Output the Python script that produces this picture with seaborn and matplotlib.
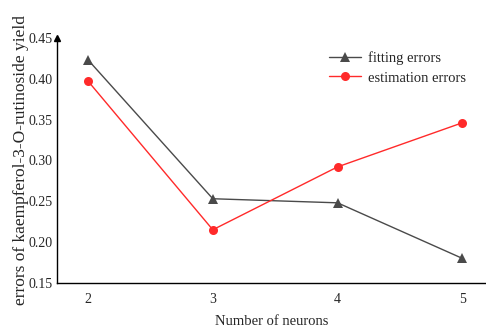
import matplotlib
matplotlib.use("Agg")
import matplotlib.pyplot as plt
import seaborn as sns
import pandas as pd

neurons = [2, 3, 4, 5]
fitting_errors = [0.423, 0.253, 0.248, 0.180]
estimation_errors = [0.397, 0.215, 0.292, 0.346]
yticks = [0.15, 0.20, 0.25, 0.30, 0.35, 0.40, 0.45]

sns.set_style("white")
plt.rcParams['font.family'] = ['Liberation Serif', 'DejaVu Serif']

df = pd.DataFrame({
    "neurons": neurons * 2,
    "error": fitting_errors + estimation_errors,
    "series": ["fitting errors"] * 4 + ["estimation errors"] * 4,
})

fig = plt.figure(figsize=(4.86, 3.32), dpi=100)
ax = fig.add_axes([0.117, 0.148, 0.883, 0.738])

sns.lineplot(data=df, x="neurons", y="error", hue="series", style="series",
             palette={"fitting errors": "#4a4a4a", "estimation errors": "#ff2a2a"},
             markers={"fitting errors": "^", "estimation errors": "o"},
             dashes=False, markersize=6.5, linewidth=1.0, markeredgewidth=0,
             ax=ax)

ax.set_xlim(1.75, 5.19)
ax.set_ylim(0.15, 0.45)
ax.set_xticks(neurons)
ax.set_xticklabels([str(n) for n in neurons])
ax.set_yticks(yticks)
ax.set_yticklabels([f"{t:.2f}" for t in yticks])
ax.tick_params(axis="both", length=0, labelsize=10)
ax.tick_params(axis="x", pad=7)
ax.tick_params(axis="y", pad=3)
for s in ["top", "right"]:
    ax.spines[s].set_visible(False)
for s in ["left", "bottom"]:
    ax.spines[s].set_color("black")
    ax.spines[s].set_linewidth(1.0)
ax.plot(0, 1, "^", color="black", markersize=5, transform=ax.transAxes, clip_on=False)

ax.set_xlabel("Number of neurons", fontsize=10.5, labelpad=7)
ax.set_ylabel("errors of kaempferol-3-O-rutinoside yield", fontsize=12.5, labelpad=0)

leg = ax.legend(loc="upper right", bbox_to_anchor=(0.985, 1.0), frameon=False,
                fontsize=10.5, handlelength=2.2, handletextpad=0.5,
                labelspacing=0.45, title=None)

fig.savefig("out.png", dpi=100)
